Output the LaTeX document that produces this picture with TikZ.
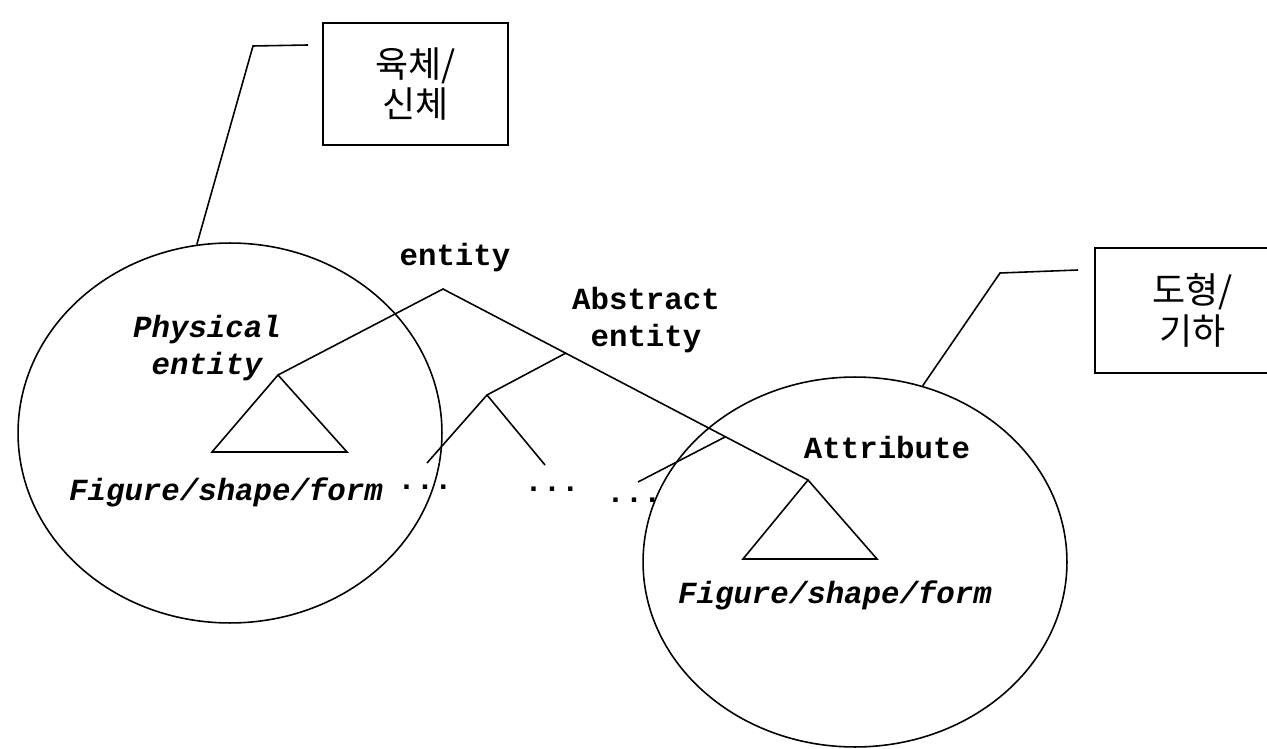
\documentclass[tikz,border=0pt]{standalone}
\usepackage{fontspec}
\setmonofont{Liberation Mono}
\newfontfamily\krfont{Noto Sans CJK KR}
\usetikzlibrary{shapes.geometric}

\tikzset{
    lbl/.style={font=\fontsize{17.5}{21}\selectfont\ttfamily\bfseries, align=center, inner sep=0pt},
    ilbl/.style={lbl, font=\fontsize{17.5}{21}\selectfont\ttfamily\bfseries\itshape},
    circ/.style={ellipse, draw, inner sep=0pt, minimum width=8.48cm, minimum height=7.6cm},
    kbox/.style={draw, align=center, minimum width=3.7cm, minimum height=2.44cm,
        font=\fontsize{20.5}{23}\selectfont\krfont},
}

\begin{document}
\begin{tikzpicture}[x=0.02cm, y=-0.02cm, line width=0.9pt]
    \useasboundingbox (0,0) rectangle (1267,749);

    % the two domains
    \node[circ] (lcirc) at (230,433) {};
    \node[circ, minimum height=7.4cm] (rcirc) at (855,562) {};

    % korean boxes with their leaders
    \node[kbox] (lbox) at (415.5,84) {육체/\\신체};
    \node[kbox, minimum width=3.9cm, minimum height=2.5cm] (rbox) at (1192.5,310.5) {도형/\\기하};
    \coordinate (lend) at (308,45);
    \coordinate (lbend) at (253,46);
    \draw (lend) -- (lbend) -- (lcirc.100);
    \coordinate (rend) at (1078,270);
    \coordinate (rbend) at (1000,273);
    \draw (rend) -- (rbend) -- (rcirc.69);

    % tree
    \coordinate (root) at (443,289);
    \coordinate (phys) at (278,375);
    \coordinate (abst) at (566,353);
    \coordinate (attr) at (808,480);
    \coordinate (fork) at (487,395);
    \coordinate (kid1) at (427,463);
    \coordinate (kid2) at (545,465);
    \coordinate (side) at (725,437);
    \coordinate (kid3) at (638,482);
    \draw (phys) -- (root) -- (attr);
    \draw (abst) -- (fork) -- (kid1);
    \draw (fork) -- (kid2);
    \draw (side) -- (kid3);
    \draw (phys) -- (212,452) -- (347,452) -- cycle;
    \draw (attr) -- (743,559) -- (877,559) -- cycle;

    % labels
    \node[lbl] (entlbl) at (455,258) {entity};
    \node[ilbl] (physlbl) at (207,348) {Physical\\entity};
    \node[lbl] (abstlbl) at (646,320) {Abstract\\entity};
    \node[lbl] (attrlbl) at (887,448) {Attribute};
    \node[ilbl] (lfig) at (226,492) {Figure/shape/form};
    \node[ilbl] (rfig) at (835,595) {Figure/shape/form};
    \node[lbl, anchor=base] (dots1) at (425,489) {...};
    \node[lbl, anchor=base] (dots2) at (552,491) {...};
    \node[lbl, anchor=base] (dots3) at (634,502) {...};
\end{tikzpicture}
\end{document}
